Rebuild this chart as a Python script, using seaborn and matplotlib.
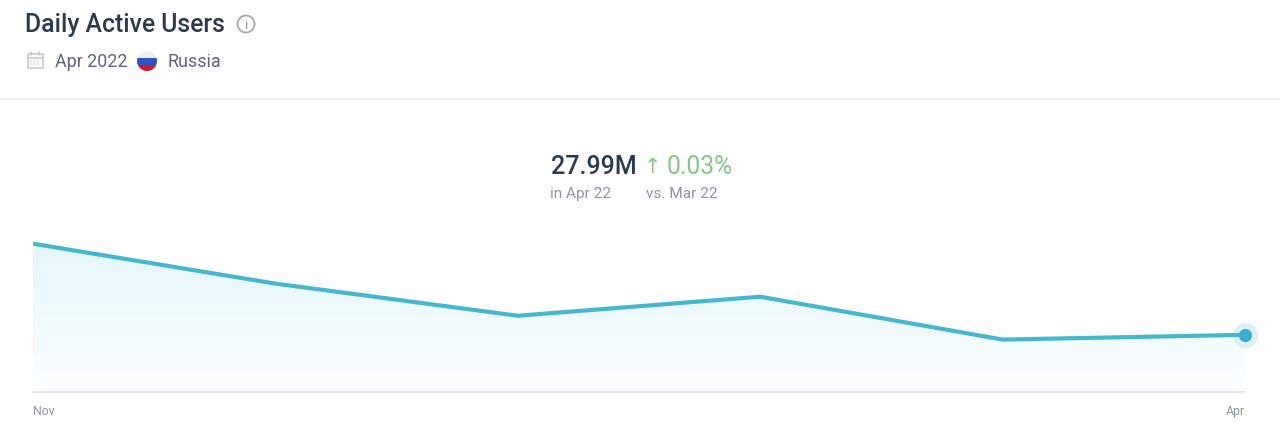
import matplotlib
matplotlib.use('Agg')

import numpy as np
import pandas as pd
import matplotlib.pyplot as plt
import seaborn as sns
from matplotlib.colors import LinearSegmentedColormap
from matplotlib.patches import Circle, Rectangle

# -----------------------------
# DATA
# -----------------------------
months = ["Nov", "Dec", "Jan", "Feb", "Mar", "Apr"]
dau_millions = [28.143, 28.076, 28.022, 28.054, 27.982, 27.99]
tick_labels = ["Nov", "Apr"]

title = "Daily Active Users"
period = "Apr 2022"
country = "Russia"
headline = "27.99M"
change = "0.03%"
headline_note = "in Apr 22"
change_note = "vs. Mar 22"

df = pd.DataFrame({"month": months, "pos": range(len(months)), "dau": dau_millions})

W, H = 1280, 431
Y_BOTTOM, Y_TOP = 27.894, 28.166

LINE = "#45b8cf"
DARK = "#2b3a4e"
GREY = "#5f6670"
LIGHT = "#8f959c"
GREEN = "#84c784"

sns.set_theme(style="white")
plt.rcParams["font.family"] = ["Roboto", "DejaVu Sans"]

fig = plt.figure(figsize=(W / 100, H / 100), dpi=100, facecolor="white")

# pixel-coordinate overlay for header and icons
bg = fig.add_axes([0, 0, 1, 1])
bg.set_xlim(0, W)
bg.set_ylim(H, 0)
bg.axis("off")

# -----------------------------
# CHART
# -----------------------------
ax = fig.add_axes([33 / W, (H - 393) / H, (1245 - 33) / W, 162 / H])
ax.patch.set_alpha(0)

# gradient under the line
grad = LinearSegmentedColormap.from_list("area", ["#fbfeff", "#e4f6fb"])
img = ax.imshow(np.linspace(1, 0, 256).reshape(-1, 1), cmap=grad, aspect="auto",
                extent=(0, len(months) - 1, Y_BOTTOM, df["dau"].max()), zorder=1)
poly = ax.fill_between(df["pos"], df["dau"], Y_BOTTOM, color="none")
img.set_clip_path(poly.get_paths()[0], ax.transData)

sns.lineplot(data=df, x="pos", y="dau", ax=ax, color=LINE, linewidth=3.0, zorder=3,
             solid_joinstyle="miter", solid_capstyle="butt")

# last point with halo
ax.scatter(df["pos"].iloc[-1], df["dau"].iloc[-1], s=340, color="#dff0f8", clip_on=False, zorder=2, linewidths=0)
ax.scatter(df["pos"].iloc[-1], df["dau"].iloc[-1], s=90, color="#33b3d0", clip_on=False, zorder=4, linewidths=0)

ax.set_xlim(0, len(months) - 1)
ax.set_ylim(Y_BOTTOM, Y_TOP)
ax.set_xlabel("")
ax.set_ylabel("")
ax.set_yticks([])
ax.set_xticks([0, len(months) - 1], tick_labels)
ax.tick_params(axis="x", length=0, pad=9, labelsize=8.8, labelcolor=LIGHT)
ax.get_xticklabels()[0].set_ha("left")
ax.get_xticklabels()[1].set_ha("right")
sns.despine(ax=ax, left=True)
ax.spines["bottom"].set_color("#e0e4e8")
ax.spines["bottom"].set_linewidth(1.2)

# -----------------------------
# HEADER
# -----------------------------
bg.plot([0, W], [100, 100], color="#e8eaed", lw=1.2)

bg.text(25, 25, title, fontsize=17.8, fontweight="medium", color=DARK, va="center", ha="left")

# info icon
bg.add_patch(Circle((246, 25), 8.5, fill=False, ec="#a9adb1", lw=1.4))
bg.text(246, 25.5, "i", fontsize=9.5, color="#8f959c", ha="center", va="center")

# calendar icon
bg.add_patch(Rectangle((27.5, 54.5), 15, 14, fill=False, ec="#c3c6ca", lw=1.1))
bg.plot([27.5, 42.5], [58.5, 58.5], color="#c3c6ca", lw=1.1)
for cx in (31, 39):
    bg.plot([cx, cx], [53, 56], color="#c3c6ca", lw=1.1)
for cy in (61.5, 65):
    bg.plot([30, 40], [cy, cy], color="#d3d6d9", lw=1.2, ls=(0, (1, 1)))

bg.text(55, 62, period, fontsize=12.9, color=GREY, va="center", ha="left")

# flag icon
flag = Circle((147, 62), 10, transform=bg.transData, fc="none", ec="none")
bg.add_patch(flag)
for top, colour in zip((52, 58.5, 65.5), ("#eef0f3", "#2a56c6", "#d5182c")):
    band = Rectangle((136, top), 22, 7.2, fc=colour, ec="none")
    bg.add_patch(band)
    band.set_clip_path(flag)

bg.text(167.5, 62, country, fontsize=12.9, color=GREY, va="center", ha="left")

# headline numbers
bg.text(550.5, 167, headline, fontsize=18, fontweight="medium", color=DARK, va="center", ha="left")
bg.text(652, 167, "↑", fontsize=15, color=GREEN, va="center", ha="center",
        family=["DejaVu Sans"])
bg.text(667, 167, change, fontsize=17.8, color=GREEN, va="center", ha="left")
bg.text(550.5, 194, headline_note, fontsize=11.1, color=LIGHT, va="center", ha="left")
bg.text(646, 194, change_note, fontsize=11.1, color=LIGHT, va="center", ha="left")

fig.savefig("out.png", dpi=100, facecolor="white")
plt.close(fig)
